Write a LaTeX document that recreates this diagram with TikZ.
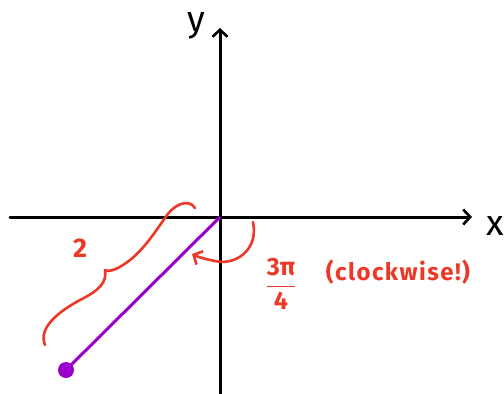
\documentclass[tikz,border=0pt]{standalone}
\usepackage{amsmath}
\usepackage{fontspec}
\setmainfont{Fira Sans}
\usetikzlibrary{arrows.meta}
\definecolor{penred}{RGB}{236,56,38}
\definecolor{penpurple}{RGB}{153,0,204}

\begin{document}
\begin{tikzpicture}[
  x=1pt,y=-1pt,
  >={Straight Barb[length=7pt,width=15pt,line width=2.6pt]},
  axis/.style={->,line width=3pt,line cap=round},
  pen/.style={penred,line width=2.6pt,line cap=round},
  radius/.style={penpurple,line width=3pt},
  dot/.style={circle,fill=penpurple,inner sep=0pt,minimum size=16pt},
  lbl/.style={inner sep=0pt,font=\fontsize{36}{38}\selectfont},
  note/.style={penred,inner sep=0pt,font=\bfseries\fontsize{24}{26}\selectfont}
]
  \useasboundingbox (0,0) rectangle (504,394);

  % axes
  \coordinate (O) at (220,217);
  \coordinate (xl) at (10,217);
  \coordinate (xr) at (472,217);
  \coordinate (yb) at (220,394);
  \coordinate (yt) at (220,28);
  \draw[axis] (xl) -- (xr);
  \draw[axis] (yb) -- (yt);
  \node[lbl] (xlab) at (495,226) {x};
  \node[lbl] (ylab) at (196,26) {y};

  % the point and its segment
  \node[dot] (P) at (66,370) {};
  \draw[radius] (O) -- (P.center);

  % length brace
  \coordinate (bA) at (45,345);
  \coordinate (bM) at (105,270);
  \coordinate (bB) at (195,208);
  \draw[pen] (bA) .. controls (38,328) and (58,312) .. (80,300)
                  .. controls (100,290) and (107,282) .. (bM);
  \draw[pen] (bM) .. controls (109,273) and (120,268) .. (130,260)
                  .. controls (145,248) and (155,232) .. (165,218)
                  .. controls (172,206) and (188,197) .. (bB);
  \node[note,font=\bfseries\fontsize{27}{29}\selectfont] (len) at (80,248) {2};

  % angle
  \coordinate (aS) at (253,222);
  \coordinate (aE) at (192,254);
  \draw[pen,->] (aS) .. controls (259,250) and (235,266) .. (215,261)
                     .. controls (205,259) and (198,257) .. (aE);
  \node[note,font=\bfseries\fontsize{25}{27}\selectfont] (ang) at (281,284)
       {$\dfrac{\textbf{3π}}{\textbf{4}}$};
  \node[note] (cw) at (398,272) {\addfontfeature{LetterSpace=6}(clockwise!)};
\end{tikzpicture}
\end{document}
